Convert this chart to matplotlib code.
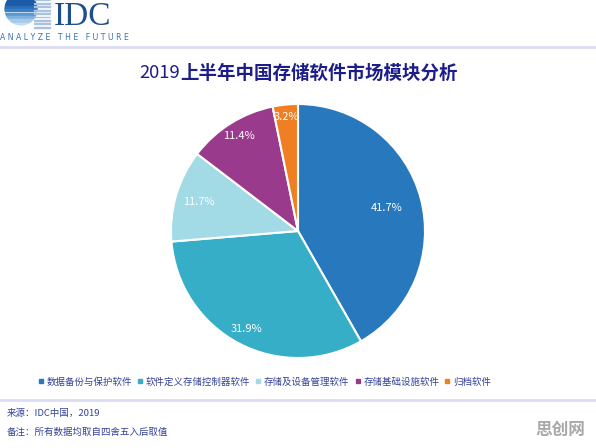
import matplotlib
matplotlib.use("Agg")
import matplotlib.pyplot as plt
from matplotlib.lines import Line2D
from matplotlib.patches import Circle, Rectangle
import numpy as np

plt.rcParams['font.family'] = ['Noto Sans CJK SC', 'DejaVu Sans']

title_year = "2019"
title_rest = "上半年中国存储软件市场模块分析"
categories = ["数据备份与保护软件", "软件定义存储控制器软件", "存储及设备管理软件", "存储基础设施软件", "归档软件"]
values = [41.7, 31.9, 11.7, 11.4, 3.2]
colors = ["#2778BD", "#36AEC7", "#A2DAE6", "#9A3A8D", "#F07E22"]
source_text = "来源：IDC中国，2019"
note_text = "备注：所有数据均取自四舍五入后取值"

W, H = 596, 448
fig = plt.figure(figsize=(W / 100, H / 100), dpi=100)
fig.patch.set_facecolor("white")

# Pie axes: center (298, 231), radius 127 px
cx, cy, r = 298, 231, 127
ax = fig.add_axes([(cx - r) / W, (H - cy - r) / H, 2 * r / W, 2 * r / H])
wedges, texts, autotexts = ax.pie(
    values, colors=colors, startangle=90, counterclock=False,
    autopct=lambda p: f"{p:.1f}%", pctdistance=0.82,
    wedgeprops=dict(edgecolor="white", linewidth=1.5),
    textprops=dict(color="white", fontsize=8))
dists = [0.72, 0.87, 0.81, 0.88, 0.9]
for w, t, d in zip(wedges, autotexts, dists):
    ang = np.deg2rad((w.theta1 + w.theta2) / 2)
    t.set_position((d * np.cos(ang), d * np.sin(ang)))
for w in wedges:
    w.set_clip_on(False)
ax.set_xlim(-1, 1)
ax.set_ylim(-1, 1)
ax.set_aspect("equal")
ax.axis("off")

# Title
fig.text(180 / W, 1 - 73 / H, title_year, ha="right", va="center",
         fontsize=13.3, color="#1C1C8A")
fig.text(180 / W, 1 - 73 / H, title_rest, ha="left", va="center",
         fontsize=13.3, fontweight="bold", color="#1C1C8A")

# Legend
handles = [Line2D([0], [0], marker="s", linestyle="none", markersize=3.5,
                  markerfacecolor=c, markeredgecolor=c) for c in colors]
leg = fig.legend(handles, categories, loc="center", ncol=5,
                 bbox_to_anchor=(265 / W, 1 - 382 / H), frameon=False,
                 fontsize=6.8, handlelength=0.4, handletextpad=0.4,
                 columnspacing=0.65, borderaxespad=0)
for t in leg.get_texts():
    t.set_color("#33419A")

# Separator lines
fig.add_artist(Line2D([0, 1], [1 - 47 / H, 1 - 47 / H], color="#DCDCF4", linewidth=2))
fig.add_artist(Line2D([0, 1], [1 - 400 / H, 1 - 400 / H], color="#DCDCF4", linewidth=2))

# Footer
fig.text(7 / W, 1 - 413 / H, source_text, ha="left", va="center",
         fontsize=6.8, color="#33419A")
fig.text(7 / W, 1 - 432 / H, note_text, ha="left", va="center",
         fontsize=6.8, color="#33419A")
fig.text(560 / W, 1 - 430 / H, "思创网", ha="center", va="center",
         fontsize=12, fontweight="bold", color="#A8A8A8")

# IDC logo
lax = fig.add_axes([0, 1 - 46 / H, 200 / W, 46 / H])
lax.set_xlim(0, 200)
lax.set_ylim(46, 0)
lax.axis("off")
circ = Circle((21, 9), 16.5, transform=lax.transData, facecolor="none", edgecolor="none")
lax.add_patch(circ)
shades = ["#1B5AA6", "#1B5AA6", "#2A6DB8", "#3C80C4", "#5A98D2", "#7FB1DE", "#A6CAEA", "#C4DCF1"]
for i, y in enumerate(np.arange(-1, 27, 3.4)):
    shade = shades[min(i, len(shades) - 1)]
    rect = Rectangle((0, y), 45, 2.2, color=shade)
    lax.add_patch(rect)
    rect.set_clip_path(circ)
    line = Rectangle((34, y + 0.7), 16, 0.8, color="#A8C2E0")
    lax.add_patch(line)
lax.text(54, 25, "IDC", ha="left", va="baseline", fontsize=24,
         family="Liberation Serif", color="#1F4E8C")
lax.text(0, 37, "A N A L Y Z E   T H E   F U T U R E", ha="left", va="center", fontsize=5.6,
         family="DejaVu Sans", color="#3A72B2")

fig.savefig("out.png", dpi=100, facecolor="white")
